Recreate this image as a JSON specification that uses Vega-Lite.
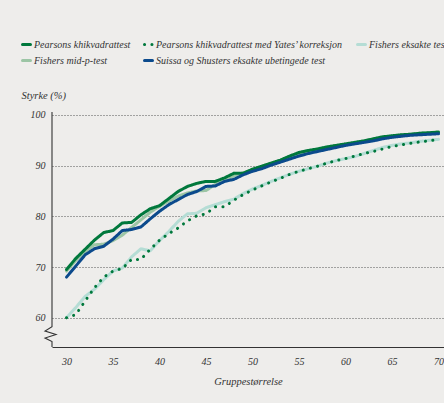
{
  "$schema": "https://vega.github.io/schema/vega-lite/v6.json",
  "width": 392,
  "height": 235,
  "autosize": {"type": "none"},
  "padding": {"left": 52, "top": 112, "right": 0, "bottom": 56},
  "background": "#eeedeb",
  "config": {"view": {"stroke": null}, "font": "Liberation Serif"},
  "datasets": {
    "styrke": [
      {"n": 30, "p": 69.5, "y": 60.0, "f": 60.0, "m": 69.2, "s": 68.0},
      {"n": 31, "p": 71.7, "y": 60.6, "f": 62.0, "m": 71.3, "s": 70.2},
      {"n": 32, "p": 73.5, "y": 63.3, "f": 64.2, "m": 73.0, "s": 72.4},
      {"n": 33, "p": 75.3, "y": 65.9, "f": 65.6, "m": 74.4, "s": 73.6},
      {"n": 34, "p": 76.8, "y": 68.0, "f": 67.5, "m": 74.5, "s": 74.1},
      {"n": 35, "p": 77.2, "y": 69.2, "f": 69.2, "m": 75.2, "s": 75.5},
      {"n": 36, "p": 78.7, "y": 69.7, "f": 69.8, "m": 76.3, "s": 77.2},
      {"n": 37, "p": 78.8, "y": 71.5, "f": 72.0, "m": 77.8, "s": 77.4},
      {"n": 38, "p": 80.3, "y": 71.5, "f": 73.6, "m": 79.3, "s": 77.9},
      {"n": 39, "p": 81.5, "y": 73.5, "f": 73.2, "m": 80.8, "s": 79.5},
      {"n": 40, "p": 82.1, "y": 75.3, "f": 75.2, "m": 82.0, "s": 81.0},
      {"n": 41, "p": 83.5, "y": 76.6, "f": 77.0, "m": 83.0, "s": 82.3},
      {"n": 42, "p": 84.9, "y": 77.7, "f": 79.0, "m": 84.0, "s": 83.3},
      {"n": 43, "p": 85.9, "y": 79.1, "f": 80.5, "m": 84.6, "s": 84.3},
      {"n": 44, "p": 86.5, "y": 80.1, "f": 80.6, "m": 85.0, "s": 84.9},
      {"n": 45, "p": 86.9, "y": 80.5, "f": 81.7, "m": 85.1, "s": 85.9},
      {"n": 46, "p": 86.9, "y": 81.9, "f": 82.3, "m": 86.3, "s": 86.0},
      {"n": 47, "p": 87.6, "y": 81.9, "f": 82.9, "m": 87.1, "s": 86.9},
      {"n": 48, "p": 88.5, "y": 83.2, "f": 83.4, "m": 88.0, "s": 87.3},
      {"n": 49, "p": 88.5, "y": 84.3, "f": 84.5, "m": 88.6, "s": 88.2},
      {"n": 50, "p": 89.3, "y": 85.2, "f": 85.4, "m": 89.2, "s": 88.9},
      {"n": 51, "p": 89.9, "y": 86.0, "f": 86.1, "m": 89.8, "s": 89.4},
      {"n": 52, "p": 90.5, "y": 86.8, "f": 86.9, "m": 90.4, "s": 90.1},
      {"n": 53, "p": 91.1, "y": 87.5, "f": 87.6, "m": 91.0, "s": 90.7},
      {"n": 54, "p": 91.9, "y": 88.3, "f": 88.3, "m": 91.7, "s": 91.3},
      {"n": 55, "p": 92.6, "y": 88.9, "f": 88.9, "m": 92.4, "s": 91.9},
      {"n": 56, "p": 93.0, "y": 89.4, "f": 89.4, "m": 92.8, "s": 92.4},
      {"n": 57, "p": 93.3, "y": 89.9, "f": 89.9, "m": 93.1, "s": 92.8},
      {"n": 58, "p": 93.7, "y": 90.5, "f": 90.5, "m": 93.5, "s": 93.2},
      {"n": 59, "p": 94.0, "y": 91.0, "f": 91.0, "m": 93.9, "s": 93.6},
      {"n": 60, "p": 94.3, "y": 91.4, "f": 91.4, "m": 94.2, "s": 94.0},
      {"n": 61, "p": 94.6, "y": 91.9, "f": 91.8, "m": 94.5, "s": 94.3},
      {"n": 62, "p": 94.9, "y": 92.4, "f": 92.4, "m": 94.8, "s": 94.6},
      {"n": 63, "p": 95.3, "y": 92.8, "f": 93.0, "m": 95.2, "s": 94.9},
      {"n": 64, "p": 95.7, "y": 93.3, "f": 93.6, "m": 95.5, "s": 95.3},
      {"n": 65, "p": 95.9, "y": 93.8, "f": 94.0, "m": 95.8, "s": 95.6},
      {"n": 66, "p": 96.1, "y": 94.1, "f": 94.3, "m": 96.0, "s": 95.8},
      {"n": 67, "p": 96.2, "y": 94.4, "f": 94.5, "m": 96.2, "s": 96.0},
      {"n": 68, "p": 96.4, "y": 94.7, "f": 94.8, "m": 96.4, "s": 96.1},
      {"n": 69, "p": 96.5, "y": 94.9, "f": 95.0, "m": 96.5, "s": 96.2},
      {"n": 70, "p": 96.6, "y": 95.2, "f": 95.2, "m": 96.7, "s": 96.3}
    ],
    "aksebrudd": [
      {"i": 1, "n": 28.44, "styrke": 100.59},
      {"i": 2, "n": 28.44, "styrke": 58.22},
      {"i": 3, "n": 27.69, "styrke": 57.37},
      {"i": 4, "n": 28.87, "styrke": 56.68},
      {"i": 5, "n": 27.69, "styrke": 55.99},
      {"i": 6, "n": 28.44, "styrke": 55.3},
      {"i": 7, "n": 28.44, "styrke": 54.22}
    ]
  },
  "layer": [
    {
      "data": {"name": "styrke"},
      "transform": [{"fold": ["f", "y", "m", "p", "s"], "as": ["test", "styrke"]}],
      "mark": {"type": "line", "strokeWidth": 3, "strokeCap": "round", "strokeJoin": "round"},
      "encoding": {
        "x": {
          "field": "n",
          "type": "quantitative",
          "scale": {"domain": [28.44, 70.59], "nice": false, "zero": false},
          "axis": {
            "title": "Gruppestørrelse",
            "values": [30, 35, 40, 45, 50, 55, 60, 65, 70],
            "grid": false,
            "ticks": false,
            "domainColor": "#333333",
            "domainWidth": 1,
            "labelFlush": false,
            "labelPadding": 9,
            "labelFontSize": 10,
            "labelFontStyle": "italic",
            "labelColor": "#333333",
            "titleFontSize": 10.5,
            "titleFontStyle": "italic",
            "titleFontWeight": "normal",
            "titleColor": "#333333",
            "titlePadding": 10
          }
        },
        "y": {
          "field": "styrke",
          "type": "quantitative",
          "scale": {"domain": [54.22, 100.59], "nice": false, "zero": false},
          "axis": {
            "title": "Styrke (%)",
            "values": [60, 70, 80, 90, 100],
            "domain": false,
            "ticks": false,
            "grid": true,
            "gridDash": [1, 2],
            "gridColor": "#555555",
            "gridWidth": 1,
            "labelPadding": 7,
            "labelFontSize": 10,
            "labelFontStyle": "italic",
            "labelColor": "#333333",
            "titleAngle": 0,
            "titleAlign": "left",
            "titleBaseline": "middle",
            "titleX": -31,
            "titleY": -17,
            "titleFontSize": 10.5,
            "titleFontStyle": "italic",
            "titleFontWeight": "normal",
            "titleColor": "#333333"
          }
        },
        "color": {
          "field": "test",
          "type": "nominal",
          "scale": {
            "domain": ["p", "y", "f", "m", "s"],
            "range": ["#00783c", "#00783c", "#b5ddd5", "#9cc5a5", "#0b4a8c"]
          },
          "legend": {
            "orient": "none",
            "legendX": -31,
            "legendY": -73,
            "direction": "horizontal",
            "columns": 3,
            "gridAlign": "none",
            "title": null,
            "padding": 0,
            "symbolType": "stroke",
            "symbolStrokeWidth": 3,
            "symbolSize": 64,
            "columnPadding": 7,
            "rowPadding": 3,
            "labelOffset": 2,
            "labelFont": "Liberation Serif",
            "labelFontStyle": "italic",
            "labelFontSize": 10,
            "labelColor": "#333333",
            "labelLimit": 400,
            "labelExpr": "datum.label == 'p' ? 'Pearsons khikvadrattest' : datum.label == 'y' ? 'Pearsons khikvadrattest med Yates’ korreksjon' : datum.label == 'f' ? 'Fishers eksakte test' : datum.label == 'm' ? 'Fishers mid-p-test' : 'Suissa og Shusters eksakte ubetingede test'",
            "encode": {"symbols": {"update": {"strokeCap": {"value": "round"}}}}
          }
        },
        "strokeDash": {
          "field": "test",
          "type": "nominal",
          "scale": {
            "domain": ["p", "y", "f", "m", "s"],
            "range": [[1, 0], [0.1, 7.3], [1, 0], [1, 0], [1, 0]]
          },
          "legend": {
            "orient": "none",
            "legendX": -31,
            "legendY": -73,
            "direction": "horizontal",
            "columns": 3,
            "gridAlign": "none",
            "title": null,
            "padding": 0,
            "symbolType": "stroke",
            "symbolStrokeWidth": 3,
            "symbolSize": 64,
            "columnPadding": 7,
            "rowPadding": 3,
            "labelOffset": 2,
            "labelFont": "Liberation Serif",
            "labelFontStyle": "italic",
            "labelFontSize": 10,
            "labelColor": "#333333",
            "labelLimit": 400,
            "labelExpr": "datum.label == 'p' ? 'Pearsons khikvadrattest' : datum.label == 'y' ? 'Pearsons khikvadrattest med Yates’ korreksjon' : datum.label == 'f' ? 'Fishers eksakte test' : datum.label == 'm' ? 'Fishers mid-p-test' : 'Suissa og Shusters eksakte ubetingede test'",
            "encode": {"symbols": {"update": {"strokeCap": {"value": "round"}}}}
          }
        }
      }
    },
    {
      "data": {"name": "aksebrudd"},
      "mark": {"type": "line", "color": "#333333", "strokeWidth": 1.1, "clip": false},
      "encoding": {
        "x": {"field": "n", "type": "quantitative"},
        "y": {"field": "styrke", "type": "quantitative"},
        "order": {"field": "i", "type": "quantitative"}
      }
    }
  ]
}
